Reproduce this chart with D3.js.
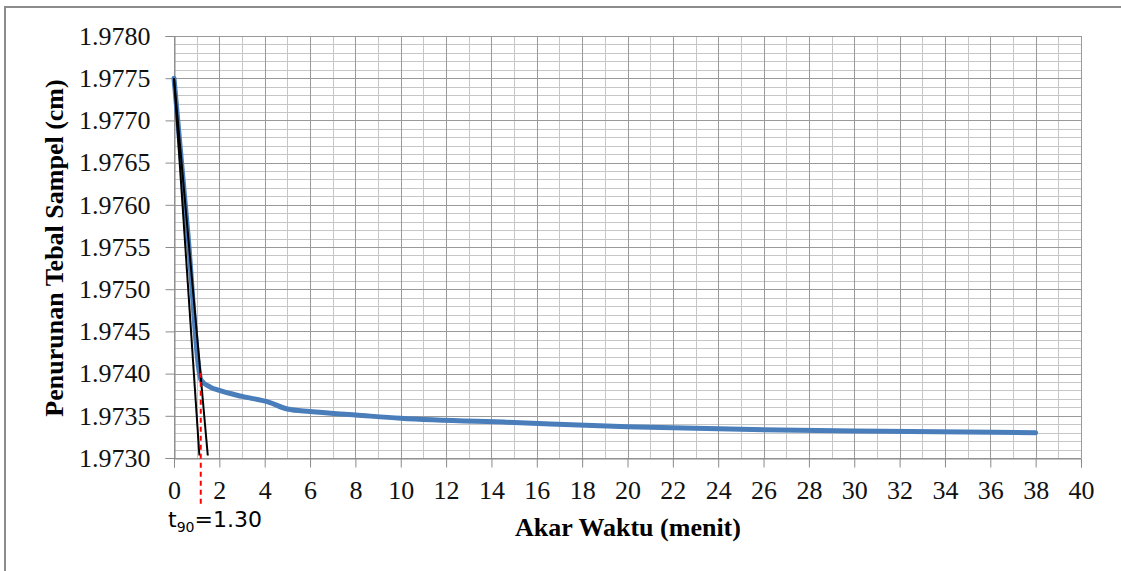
<!DOCTYPE html>
<html>
<head>
<meta charset="utf-8">
<script src="https://cdn.jsdelivr.net/npm/d3@7"></script>
<style>
  body { margin: 0; background: #fff; }
  svg { display: block; }
</style>
</head>
<body>
<svg id="chart" width="1121" height="571"></svg>
<script>
const width = 1121;
const height = 571;

// data (akar waktu vs penurunan tebal)
const akarWaktu = [0, 0.6, 1.2, 1.6, 2.0, 3.0, 4.2, 5.0, 6.0, 8.0, 10, 15, 20, 25, 30, 38];
const tebal = [1.97750, 1.97570, 1.97392, 1.97384, 1.97380, 1.97373, 1.97366, 1.97358, 1.97355, 1.97351, 1.97347, 1.97342, 1.97337, 1.97334, 1.97332, 1.97330];

// two straight lines of the taylor method
const garis1 = [[0, 1.97750], [1.12, 1.97303]];
const garis2 = [[0, 1.97750], [1.49, 1.97303]];
const t90x = 1.18;
const t90y = 1.97401;

const xTicks = d3.range(0, 41, 2);
const yTicks = [1.9730, 1.9735, 1.9740, 1.9745, 1.9750, 1.9755, 1.9760, 1.9765, 1.9770, 1.9775, 1.9780];

const margin = {left: 174, right: 40, top: 36, bottom: 113};

const svg = d3.select("#chart");

const x = d3.scaleLinear().domain([0, 40]).range([margin.left, width - margin.right]);
const y = d3.scaleLinear().domain([1.9730, 1.9780]).range([height - margin.bottom, margin.top]);

// outer frame (only top and left show)
svg.append("line").attr("x1", 4).attr("x2", width).attr("y1", 7).attr("y2", 7)
    .attr("stroke", "#8c8c8c").attr("stroke-width", 2);
svg.append("line").attr("x1", 5).attr("x2", 5).attr("y1", 7).attr("y2", height)
    .attr("stroke", "#8c8c8c").attr("stroke-width", 2);

// minor grid
const grid = svg.append("g");
grid.selectAll(".vminor").data(d3.range(1, 40, 2)).enter().append("line")
    .attr("x1", d => Math.round(x(d)) + 0.5).attr("x2", d => Math.round(x(d)) + 0.5)
    .attr("y1", y(1.9780)).attr("y2", y(1.9730))
    .attr("stroke", "#c6c6c6");
const yMinor = d3.range(0, 51).map(i => 1.9730 + i * 0.0001).filter((d, i) => i % 5 != 0);
grid.selectAll(".hminor").data(yMinor).enter().append("line")
    .attr("x1", x(0)).attr("x2", x(40))
    .attr("y1", d => Math.round(y(d)) + 0.5).attr("y2", d => Math.round(y(d)) + 0.5)
    .attr("stroke", "#c6c6c6");
// major grid
grid.selectAll(".vmajor").data(xTicks).enter().append("line")
    .attr("x1", d => Math.round(x(d)) + 0.5).attr("x2", d => Math.round(x(d)) + 0.5)
    .attr("y1", y(1.9780)).attr("y2", y(1.9730))
    .attr("stroke", "#9a9a9a");
grid.selectAll(".hmajor").data(yTicks).enter().append("line")
    .attr("x1", x(0)).attr("x2", x(40))
    .attr("y1", d => Math.round(y(d)) + 0.5).attr("y2", d => Math.round(y(d)) + 0.5)
    .attr("stroke", "#9a9a9a");

// axes
const xAxis = d3.axisBottom(x).tickValues(xTicks).tickSize(9).tickPadding(13).tickFormat(d3.format("d"));
const yAxis = d3.axisLeft(y).tickValues(yTicks).tickSize(9).tickPadding(15).tickFormat(d3.format(".4f"));

const gx = svg.append("g").attr("transform", `translate(0,${Math.round(y(1.9730)) + 0.5})`).call(xAxis);
const gy = svg.append("g").attr("transform", `translate(${Math.round(x(0)) + 0.5},0)`).call(yAxis);

[gx, gy].forEach(function(g){
    g.select(".domain").attr("stroke", "#8a8a8a");
    g.selectAll(".tick line").attr("stroke", "#8a8a8a");
    g.selectAll(".tick text")
        .attr("fill", "#111")
        .style("font-family", "'Liberation Serif', 'Times New Roman', serif")
        .style("font-size", "26px");
});

// data curve
const line = d3.line().x(d => x(d[0])).y(d => y(d[1])).curve(d3.curveMonotoneX);
svg.append("path")
    .datum(akarWaktu.map((d, i) => [d, tebal[i]]))
    .attr("d", line)
    .attr("fill", "none")
    .attr("stroke", "#4a7ebb")
    .attr("stroke-width", 5)
    .attr("stroke-linejoin", "round")
    .attr("stroke-linecap", "round");

// taylor lines
const straight = d3.line().x(d => x(d[0])).y(d => y(d[1]));
[garis1, garis2].forEach(function(g){
    svg.append("path").attr("d", straight(g))
        .attr("fill", "none").attr("stroke", "#000").attr("stroke-width", 2);
});

// red dashed t90
svg.append("line")
    .attr("x1", x(t90x)).attr("x2", x(t90x))
    .attr("y1", y(t90y)).attr("y2", 507)
    .attr("stroke", "#ff0000").attr("stroke-width", 2)
    .attr("stroke-dasharray", "5,4");

// t90 label
const lbl = svg.append("text")
    .attr("x", 168).attr("y", 527)
    .style("font-family", "'DejaVu Sans', Verdana, sans-serif")
    .style("font-size", "22px")
    .attr("fill", "#000");
lbl.append("tspan").text("t");
lbl.append("tspan").attr("dy", 5).style("font-size", "14px").text("90");
lbl.append("tspan").attr("dy", -5).text("=1.30");

// axis titles
svg.append("text")
    .attr("x", 628).attr("y", 536)
    .attr("text-anchor", "middle")
    .style("font-family", "'Liberation Serif', 'Times New Roman', serif")
    .style("font-size", "26px")
    .style("font-weight", "bold")
    .text("Akar Waktu (menit)");

svg.append("text")
    .attr("transform", "translate(63,248) rotate(-90)")
    .attr("text-anchor", "middle")
    .style("font-family", "'Liberation Serif', 'Times New Roman', serif")
    .style("font-size", "26px")
    .style("font-weight", "bold")
    .text("Penurunan Tebal Sampel (cm)");
</script>
</body>
</html>
